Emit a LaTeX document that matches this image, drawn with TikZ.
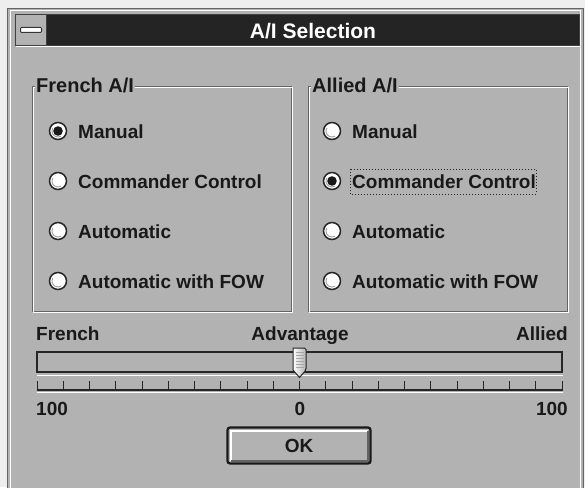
\documentclass[tikz,border=0pt]{standalone}
\usepackage{fontspec}
\setmainfont{Liberation Sans}
\definecolor{wingray}{RGB}{178,178,178}
\definecolor{titledark}{RGB}{36,36,36}
\definecolor{edgedark}{RGB}{100,100,100}
\definecolor{margin}{RGB}{238,238,238}
\begin{document}
\begin{tikzpicture}[x=1pt,y=-1pt,
  lbl/.style={font=\fontsize{19}{22}\selectfont\bfseries, text=black!90, inner sep=0pt},
  grouplbl/.style={font=\fontsize{20}{22}\selectfont\bfseries, text=black!90, inner sep=0pt},
  radiobtn/.style={circle, draw=black!85, fill=white, minimum size=17pt, inner sep=0pt, line width=1.5pt},
  etchdark/.style={draw=edgedark, line width=1pt},
  etchlight/.style={draw=white, line width=1pt}]
\useasboundingbox (0,0) rectangle (585,487);
\fill[margin] (0,0) rectangle (585,487);
% window
\fill[wingray] (7,8) rectangle (584,492);
\draw[edgedark, line width=1pt] (7.5,8.5) -- (583.5,8.5) -- (583.5,492);
\draw[edgedark, line width=1pt] (7.5,8.5) -- (7.5,492);
\draw[white, line width=1pt] (10,11) -- (580.5,11) -- (580.5,492);
\draw[white, line width=1pt] (10,11) -- (10,492);
% title bar
\fill[titledark] (46,15) rectangle (579,45);
\draw[black!75, line width=1pt] (15.5,14.5) rectangle (579.5,45.5);
\draw[black!75, line width=1pt] (46,15) -- (46,45);
\draw[white, line width=1pt] (16,47) -- (580,47);
\node[draw=black!80, fill=white, line width=1pt, minimum width=21pt, minimum height=5pt, inner sep=0pt, rounded corners=1pt] (sysbar) at (31,30) {};
\node[font=\fontsize{21}{24}\selectfont\bfseries, text=white, inner sep=0pt, anchor=base] (title) at (313,38.5) {A/I Selection};
% group boxes
\draw[etchdark] (32,86) rectangle (291,311);
\draw[etchlight] (33,87) rectangle (292,312);
\draw[etchdark] (308,86) rectangle (567,311);
\draw[etchlight] (309,87) rectangle (568,312);
\node[grouplbl, fill=wingray, anchor=base west, inner xsep=1pt] (frg) at (35,92) {French A/I};
\node[grouplbl, fill=wingray, anchor=base west, inner xsep=1pt] (alg) at (311,92) {Allied A/I};
% radio buttons French
\foreach \nm/\yy/\txt in {f1/131/Manual, f2/181/Commander Control, f3/231/Automatic, f4/281/Automatic with FOW}{
  \node[radiobtn] (\nm r) at (58,\yy) {};
  \draw[gray!70, line width=1pt] (\nm r.center) ++(150:6pt) arc (150:300:6pt);
  \node[lbl, anchor=base west] (\nm t) at (78,\yy+7) {\txt};
}
\foreach \nm/\yy/\txt in {a1/131/Manual, a2/181/Commander Control, a3/231/Automatic, a4/281/Automatic with FOW}{
  \node[radiobtn] (\nm r) at (332,\yy) {};
  \draw[gray!70, line width=1pt] (\nm r.center) ++(150:6pt) arc (150:300:6pt);
  \node[lbl, anchor=base west] (\nm t) at (352,\yy+7) {\txt};
}
\fill[black!90] (f1r.center) circle (4.8pt);
\fill[black!90] (a2r.center) circle (4.8pt);
\draw[black!85, dotted, line width=1pt] (350,169) rectangle (536,194);
% slider labels
\node[lbl, anchor=base west] (sfr) at (36,340) {French};
\node[lbl, anchor=base] (sadv) at (300,340) {Advantage};
\node[lbl, anchor=base east] (sal) at (568,340) {Allied};
% track
\draw[black!85, line width=1.3pt] (37,352) rectangle (562,372);
\draw[white, line width=1pt] (37,375) -- (563,375);
% thumb
\shade[left color=white, right color=gray!60, draw=black!85, line width=1pt, rounded corners=1.5pt] (293,348) -- (306,348) -- (306,370) [sharp corners] -- (299.5,377.5) -- (293,370) -- cycle;
\foreach \yy in {352,355,...,368}{\draw[gray!70, line width=0.5pt] (296,\yy) -- (304,\yy);}
% ticks
\foreach \i in {0,...,20}{\draw[black!85, line width=1pt] (37+26.25*\i,381) -- (37+26.25*\i,390);}
\draw[black!85, line width=1.2pt] (37,390) -- (562.5,390);
\draw[white, line width=1pt] (37,392.5) -- (563,392.5);
% numbers
\node[lbl, anchor=base west] (n1) at (36,415) {100};
\node[lbl, anchor=base] (n2) at (300,415) {0};
\node[lbl, anchor=base east] (n3) at (568,415) {100};
% OK button
\node[draw=black!90, line width=2.2pt, rounded corners=2.5pt, fill=wingray, minimum width=143pt, minimum height=36pt, inner sep=0pt] (ok) at (299,445.5) {};
\draw[white, line width=2pt] (230.5,461) -- (230.5,430.5) -- (367.5,430.5);
\draw[edgedark, line width=2pt] (231,460.5) -- (367.5,460.5) -- (367.5,431);
\node[lbl] (oktxt) at (ok.center) {OK};
\end{tikzpicture}
\end{document}
